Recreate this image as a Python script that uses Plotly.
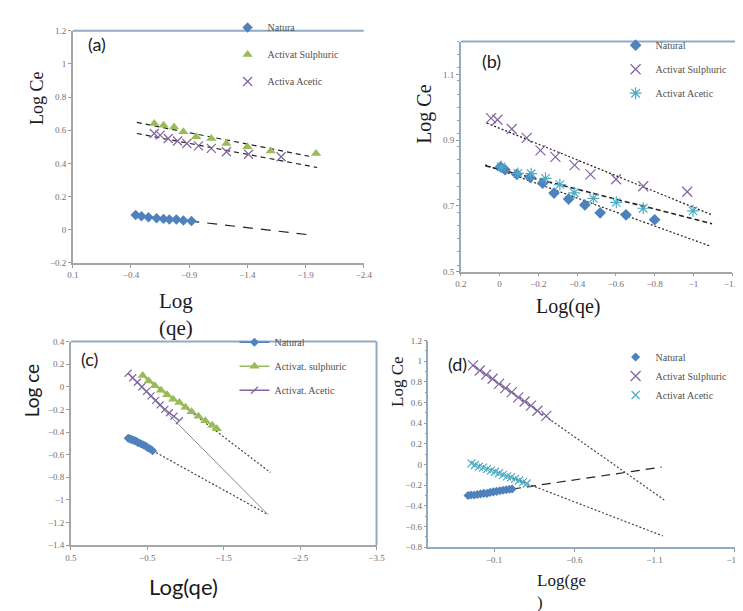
import plotly.graph_objects as go

# ---------------- data ----------------
# panel (a)
a_nat_x = [-0.44, -0.49, -0.55, -0.62, -0.68, -0.73, -0.79, -0.85, -0.92]
a_nat_y = [0.089, 0.081, 0.075, 0.069, 0.065, 0.061, 0.061, 0.055, 0.052]
a_nat_tx = [-0.44, -1.97]
a_nat_ty = [0.09, -0.034]
a_sul_x = [-0.60, -0.68, -0.77, -0.85, -0.96, -1.09, -1.22, -1.40, -1.60, -1.99]
a_sul_y = [0.64, 0.63, 0.62, 0.59, 0.56, 0.55, 0.52, 0.50, 0.475, 0.46]
a_sul_tx = [-0.45, -1.93]
a_sul_ty = [0.647, 0.443]
a_ace_x = [-0.60, -0.65, -0.72, -0.80, -0.88, -0.98, -1.09, -1.22, -1.41, -1.69]
a_ace_y = [0.58, 0.57, 0.55, 0.535, 0.52, 0.505, 0.49, 0.47, 0.455, 0.44]
a_ace_tx = [-0.45, -2.0]
a_ace_ty = [0.58, 0.375]
a_xticks = [0.1, -0.4, -0.9, -1.4, -1.9, -2.4]

# panel (b)
b_nat_x = [-0.005, -0.028, -0.089, -0.158, -0.222, -0.281, -0.356, -0.44, -0.519, -0.652, -0.80]
b_nat_y = [0.819, 0.81, 0.796, 0.787, 0.769, 0.739, 0.721, 0.703, 0.679, 0.673, 0.658]
b_nat_tx = [0.074, -1.086]
b_nat_ty = [0.825, 0.578]
b_sul_x = [0.044, 0.011, -0.063, -0.14, -0.211, -0.288, -0.387, -0.469, -0.601, -0.741, -0.968]
b_sul_y = [0.967, 0.962, 0.934, 0.907, 0.869, 0.849, 0.824, 0.796, 0.781, 0.760, 0.743]
b_sul_tx = [0.066, -1.095]
b_sul_ty = [0.952, 0.673]
b_ace_x = [-0.008, -0.094, -0.163, -0.237, -0.311, -0.385, -0.484, -0.602, -0.741, -0.998]
b_ace_y = [0.819, 0.799, 0.798, 0.784, 0.765, 0.74, 0.723, 0.711, 0.693, 0.685]
b_ace_tx = [0.074, -1.096]
b_ace_ty = [0.822, 0.646]

# panel (c)
c_nat_x = [-0.25, -0.27, -0.29, -0.31, -0.33, -0.35, -0.37, -0.39, -0.42, -0.45, -0.48, -0.51, -0.54, -0.57]
c_nat_y = [-0.455, -0.46, -0.465, -0.47, -0.475, -0.48, -0.49, -0.495, -0.505, -0.515, -0.525, -0.54, -0.55, -0.565]
c_nat_tx = [-0.25, -2.08]
c_nat_ty = [-0.445, -1.13]
c_sul_x = [-0.44, -0.52, -0.60, -0.68, -0.76, -0.84, -0.92, -1.00, -1.08, -1.17, -1.26, -1.35, -1.41]
c_sul_y = [0.10, 0.05, 0.01, -0.03, -0.07, -0.11, -0.14, -0.18, -0.22, -0.26, -0.30, -0.34, -0.37]
c_sul_tx = [-0.44, -2.11]
c_sul_ty = [0.104, -0.757]
c_ace_x = [-0.25, -0.31, -0.37, -0.43, -0.49, -0.55, -0.61, -0.67, -0.73, -0.79, -0.85, -0.92]
c_ace_y = [0.12, 0.08, 0.04, 0.0, -0.04, -0.08, -0.12, -0.16, -0.20, -0.23, -0.26, -0.30]
c_ace_tx = [-0.25, -2.08]
c_ace_ty = [0.116, -1.13]
c_xticks = [0.5, -0.5, -1.5, -2.5, -3.5]

# panel (d)
d_nat_x = [0.063, 0.045, 0.025, 0.005, -0.015, -0.035, -0.055, -0.075, -0.095, -0.115, -0.135, -0.155, -0.175, -0.195, -0.212]
d_nat_y = [-0.30, -0.295, -0.295, -0.29, -0.285, -0.28, -0.28, -0.27, -0.265, -0.26, -0.255, -0.25, -0.245, -0.24, -0.238]
d_nat_tx = [-0.212, -1.145]
d_nat_ty = [-0.238, -0.025]
d_sul_x = [0.032, -0.01, -0.05, -0.09, -0.13, -0.17, -0.21, -0.25, -0.29, -0.33, -0.37, -0.425]
d_sul_y = [0.96, 0.91, 0.87, 0.83, 0.78, 0.74, 0.70, 0.65, 0.61, 0.57, 0.52, 0.47]
d_sul_tx = [0.032, -1.161]
d_sul_ty = [0.959, -0.343]
d_ace_x = [0.042, 0.02, -0.005, -0.03, -0.055, -0.08, -0.105, -0.13, -0.155, -0.18, -0.205, -0.23, -0.255, -0.28, -0.303]
d_ace_y = [0.01, -0.005, -0.02, -0.03, -0.045, -0.06, -0.07, -0.085, -0.10, -0.115, -0.125, -0.14, -0.155, -0.17, -0.184]
d_ace_tx = [0.042, -1.153]
d_ace_ty = [0.022, -0.692]
d_xticks = [-0.1, -0.6, -1.1, -1.6]

# ---------------- style ----------------
W, H = 743, 611
BLUE = "#4F81BD"
GREEN = "#9BBB59"
PURPLE = "#8064A2"
CYAN = "#4BACC6"
BORDER = "#93AAC3"
AXIS = "#A6A6A6"
SERIF = "Liberation Serif"
SANS = "Lato"
TICKFONT = dict(family=SERIF, size=9, color="#707070")
LEGFONT = dict(family=SERIF, size=10, color="#505050")


def fx(px):
    return px / W


def fy(py):
    return 1 - py / H


fig = go.Figure()


def pts(x, y, name, ax, legend, sym, color, size, mode="markers", lw=1.2, lcolor=None):
    open_sym = sym.endswith("open")
    fig.add_trace(go.Scatter(
        x=x, y=y, name=name, mode=mode, xaxis="x" + ax, yaxis="y" + ax,
        legend=legend, legendgroup=legend + name,
        marker=dict(symbol=sym, size=size, color=color,
                    line=dict(color=color, width=lw if open_sym else 0)),
        line=dict(color=lcolor or color, width=1.5),
    ))


def trend(x, y, ax, dash, color="#222222", width=1.2):
    fig.add_trace(go.Scatter(
        x=x, y=y, mode="lines", xaxis="x" + ax, yaxis="y" + ax, showlegend=False,
        line=dict(color=color, width=width, dash=dash), hoverinfo="skip",
    ))


# panel (a)
trend(a_nat_tx, a_nat_ty, "", "10px,8px")
trend(a_sul_tx, a_sul_ty, "", "5px,4px")
trend(a_ace_tx, a_ace_ty, "", "5px,4px")
pts(a_nat_x, a_nat_y, "Natura", "", "legend", "diamond", BLUE, 8)
pts(a_sul_x, a_sul_y, "Activat Sulphuric", "", "legend", "triangle-up", GREEN, 9)
pts(a_ace_x, a_ace_y, "Activa Acetic", "", "legend", "x-thin-open", PURPLE, 9)

# panel (b)
trend(b_nat_tx, b_nat_ty, "2", "2px,2px")
trend(b_ace_tx, b_ace_ty, "2", "5px,3px", width=1.6)
trend(b_sul_tx, b_sul_ty, "2", "2px,2px")
pts(b_nat_x, b_nat_y, "Natural", "2", "legend2", "diamond", BLUE, 9)
pts(b_sul_x, b_sul_y, "Activat Sulphuric", "2", "legend2", "x-thin-open", PURPLE, 10)
pts(b_ace_x, b_ace_y, "Activat Acetic", "2", "legend2", "asterisk-open", CYAN, 10)

# panel (c)
trend(c_nat_tx, c_nat_ty, "3", "2px,2px", color="#444444")
trend(c_sul_tx, c_sul_ty, "3", "2px,2px", color="#444444")
trend(c_ace_tx, c_ace_ty, "3", "solid", color="#8A8A8A", width=1)
pts(c_nat_x, c_nat_y, "Natural", "3", "legend3", "diamond", BLUE, 7, mode="lines+markers")
pts(c_sul_x, c_sul_y, "Activat. sulphuric", "3", "legend3", "triangle-up", GREEN, 9, mode="lines+markers")
pts(c_ace_x, c_ace_y, "Activat. Acetic", "3", "legend3", "line-ne-open", PURPLE, 7, mode="lines+markers")

# panel (d)
trend(d_nat_tx, d_nat_ty, "4", "9px,6px")
trend(d_sul_tx, d_sul_ty, "4", "2px,2px", color="#444444")
trend(d_ace_tx, d_ace_ty, "4", "2px,2px", color="#444444")
pts(d_nat_x, d_nat_y, "Natural", "4", "legend4", "diamond", BLUE, 7)
pts(d_sul_x, d_sul_y, "Activat Sulphuric", "4", "legend4", "x-thin-open", PURPLE, 10)
pts(d_ace_x, d_ace_y, "Activat Acetic", "4", "legend4", "x-thin-open", CYAN, 8)


def xax(dom, rng, tickvals=None, dtick=None, color=AXIS, anchor="y"):
    d = dict(domain=dom, range=rng, showgrid=False, zeroline=False, showline=True,
             linecolor=color, linewidth=1.5, ticks="outside", ticklen=3, tickcolor="#999",
             tickfont=TICKFONT, anchor=anchor)
    if tickvals is not None:
        d.update(tickmode="array", tickvals=tickvals)
    if dtick is not None:
        d.update(dtick=dtick, tick0=0)
    return d


def yax(dom, rng, dtick, tick0, color=AXIS, anchor="x", minor=None):
    d = dict(domain=dom, range=rng, showgrid=False, zeroline=False, showline=True,
             linecolor=color, linewidth=1.5, ticks="outside", ticklen=3, tickcolor="#999",
             tickfont=TICKFONT, dtick=dtick, tick0=tick0, anchor=anchor)
    if minor:
        d["minor"] = dict(dtick=minor, ticks="outside", ticklen=2, tickcolor="#999")
    return d


A_X = [fx(60), fx(357)]
A_Y = [fy(254), fy(18)]
B_X = [fx(456), fx(733)]
B_Y = [fy(263), fy(29)]
C_X = [fx(58), fx(370)]
C_Y = [fy(541), fy(334)]
D_X = [fx(423), fx(742)]
D_Y = [fy(543), fy(333)]

fig.update_layout(
    width=W, height=H, margin=dict(l=0, r=0, t=0, b=0),
    paper_bgcolor="white", plot_bgcolor="white",
    xaxis=xax(A_X, [0.1, -2.4], tickvals=a_xticks, anchor="y"),
    yaxis=yax(A_Y, [-0.2, 1.2], 0.2, 0, anchor="x"),
    xaxis2=xax(B_X, [0.2, -1.2], dtick=0.2, anchor="y2"),
    yaxis2=yax(B_Y, [0.5, 1.2], 0.2, 0.5, color=BORDER, anchor="x2", minor=0.04),
    xaxis3=xax(C_X, [0.5, -3.5], tickvals=c_xticks, anchor="y3"),
    yaxis3=yax(C_Y, [-1.4, 0.4], 0.2, 0, anchor="x3"),
    xaxis4=xax(D_X, [0.31, -1.64], tickvals=d_xticks, color=BORDER, anchor="y4"),
    yaxis4=yax(D_Y, [-0.8, 1.2], 0.2, 0, color=BORDER, anchor="x4", minor=0.1),
    legend=dict(x=fx(218), y=fy(0), xanchor="left", yanchor="top", font=LEGFONT,
                bgcolor="rgba(0,0,0,0)", tracegroupgap=8),
    legend2=dict(x=fx(614), y=fy(18), xanchor="left", yanchor="top", font=LEGFONT,
                 bgcolor="rgba(0,0,0,0)", tracegroupgap=5),
    legend3=dict(x=fx(225), y=fy(320), xanchor="left", yanchor="top", font=LEGFONT,
                 bgcolor="rgba(0,0,0,0)", tracegroupgap=5),
    legend4=dict(x=fx(614), y=fy(335), xanchor="left", yanchor="top", font=LEGFONT,
                 bgcolor="rgba(0,0,0,0)", tracegroupgap=0),
    showlegend=True,
)

# borders
shapes = [
    dict(type="line", xref="paper", yref="paper", x0=A_X[0], x1=A_X[1], y0=A_Y[1], y1=A_Y[1],
         line=dict(color=BORDER, width=2)),
    dict(type="line", xref="paper", yref="paper", x0=B_X[0], x1=fx(740), y0=B_Y[1], y1=B_Y[1],
         line=dict(color=BORDER, width=2)),
    dict(type="line", xref="paper", yref="paper", x0=C_X[0], x1=C_X[1], y0=C_Y[1], y1=C_Y[1],
         line=dict(color=BORDER, width=2)),
    dict(type="line", xref="paper", yref="paper", x0=C_X[1], x1=C_X[1], y0=C_Y[0], y1=C_Y[1],
         line=dict(color=BORDER, width=2)),
]
fig.update_layout(shapes=shapes)


def ann(text, px, py, family, size, angle=0, xanchor="center", align="center", color="#1a1a1a"):
    fig.add_annotation(text=text, x=fx(px), y=fy(py), xref="paper", yref="paper",
                       showarrow=False, textangle=angle, xanchor=xanchor, yanchor="middle",
                       align=align, font=dict(family=family, size=size, color=color))


# panel labels
ann("(a)", 85, 32, SANS, 18)
ann("(b)", 487, 49, SANS, 18)
ann("(c)", 77, 352, SANS, 18)
ann("(d)", 453, 357, SANS, 18)
# y titles
ann("Log Ce", 23, 87, SERIF, 18, angle=-90)
ann("Log Ce", 419, 103, SERIF, 20, angle=-90)
ann("Log ce", 18, 384, SANS, 19, angle=-90)
ann("Log Ce", 392, 375, SERIF, 17, angle=-90)
# x titles
ann("Log<br>(qe)", 165, 307, SERIF, 21)
ann("Log(qe)", 565, 298, SERIF, 20)
ann("Log(qe)", 173, 583, SANS, 22)
ann("Log(ge<br>)", 532, 588, SERIF, 17, xanchor="left", align="left")

fig.write_html("out.html")
